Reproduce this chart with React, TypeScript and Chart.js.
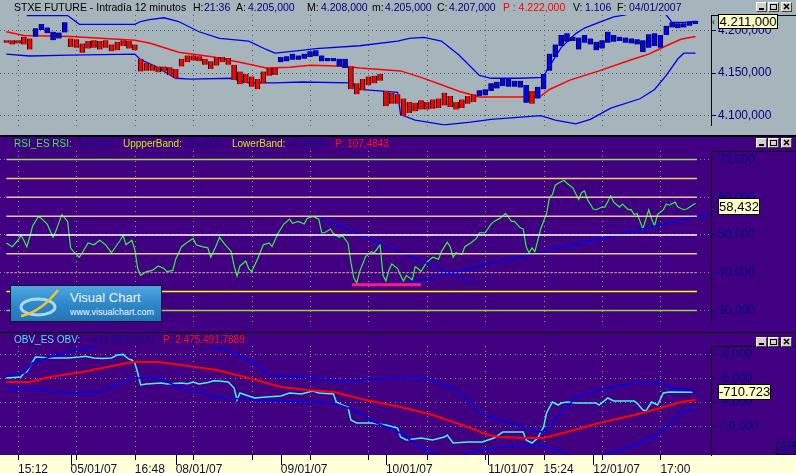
import React, { useEffect, useRef } from 'react';
import { Chart, registerables } from 'chart.js';
Chart.register(...registerables);

const FONT = '"Liberation Sans", Arial, Helvetica, sans-serif';
const NAVY = '#000080';
const XMIN = -0.17;
const XMAX = 243.32;

// ---------- time index (12-minute bars) ----------
const barT = Array.from({ length: 119 }, (_, i) => 2 + 2 * i);
const gridT = [6, 26, 46, 66, 86, 106, 126, 146, 166, 186, 206, 226];
const dateTickT = [24, 60, 96, 132, 167, 203];
const xLabelT = [6, 24, 46, 60, 96, 132, 167, 186, 203, 226];
const xLabels = ['15:12', '05/01/07', '16:48', '08/01/07', '09/01/07', '10/01/07', '11/01/07', '15:24', '12/01/07', '17:00'];

// ---------- price panel ----------
const priceHigh = [
  4189, 4189, 4189, 4193, 4191, 4203, 4208, 4204, 4199, 4198,
  4210, 4191, 4190, 4185, 4188, 4189, 4188, 4189, 4184, 4187,
  4189, 4188, 4184, 4167, 4162, 4160, 4158, 4158, 4157, 4155,
  4167, 4171, 4171, 4170, 4167, 4164, 4169, 4169, 4168, 4160,
  4152, 4149, 4146, 4143, 4152, 4156, 4156, 4169, 4170, 4173,
  4171, 4173, 4176, 4177, 4171, 4168, 4168, 4167, 4167, 4158,
  4138, 4143, 4146, 4147, 4149, 4129, 4127, 4125, 4120, 4116,
  4115, 4118, 4116, 4119, 4120, 4127, 4123, 4116, 4119, 4123,
  4125, 4130, 4131, 4138, 4140, 4144, 4143, 4141, 4141, 4136,
  4129, 4134, 4149, 4173, 4184, 4195, 4197, 4193, 4192, 4195,
  4191, 4187, 4189, 4199, 4195, 4193, 4192, 4191, 4190, 4189,
  4196, 4197, 4195, 4206, 4210, 4209, 4209, 4211, 4212,
];
const priceLow = [
  4186, 4184, 4185, 4184, 4178, 4193, 4201, 4197, 4189, 4191,
  4198, 4181, 4180, 4174, 4179, 4180, 4178, 4180, 4176, 4177,
  4182, 4179, 4177, 4152, 4153, 4153, 4151, 4152, 4148, 4144,
  4158, 4163, 4165, 4164, 4160, 4155, 4159, 4163, 4160, 4142,
  4137, 4138, 4134, 4131, 4138, 4147, 4148, 4163, 4164, 4166,
  4166, 4167, 4169, 4170, 4164, 4164, 4164, 4158, 4156, 4131,
  4125, 4130, 4136, 4138, 4141, 4111, 4114, 4114, 4100, 4103,
  4105, 4107, 4107, 4108, 4109, 4112, 4110, 4107, 4109, 4114,
  4116, 4123, 4124, 4129, 4132, 4135, 4134, 4134, 4133, 4115,
  4114, 4120, 4131, 4153, 4169, 4182, 4187, 4188, 4178, 4186,
  4184, 4177, 4179, 4186, 4187, 4188, 4186, 4185, 4184, 4175,
  4180, 4182, 4180, 4195, 4204, 4203, 4204, 4206, 4208,
];
const upperT = [9, 23, 27, 46, 48, 51, 56, 61, 68, 75, 85, 91, 94, 103, 108, 123, 136, 140, 145, 151, 157, 164, 168, 178, 186, 187, 192, 197, 200, 205, 210, 214, 220, 226, 228, 230, 234, 238];
const upperV = [4218, 4218, 4207.7, 4207.7, 4211, 4213.2, 4215.4, 4211, 4198.9, 4191.2, 4187.9, 4178, 4173.6, 4176.9, 4179.1, 4182.4, 4187.9, 4191.2, 4192.3, 4187.9, 4171.4, 4147.3, 4144, 4144, 4145.1, 4152.7, 4180.2, 4196.7, 4203.3, 4209.9, 4216.5, 4218.7, 4226, 4223, 4218.7, 4209.9, 4210, 4211];
const midT = [2, 8, 24, 46, 51, 61, 73, 84, 91, 99, 106, 118, 123, 137, 144, 151, 157, 164, 178, 185, 188, 195, 205, 216, 222, 228, 233, 238];
const midV = [4198.9, 4194.5, 4193.4, 4189, 4185.7, 4174.7, 4169.2, 4161.5, 4156, 4157.1, 4159.3, 4158.2, 4156, 4152.7, 4145.1, 4136.3, 4128.6, 4122, 4122, 4123.1, 4130.8, 4141.8, 4152.7, 4165.9, 4172.5, 4182.4, 4190.1, 4193.4];
const lowerT = [2, 10, 24, 46, 48, 53, 60, 65, 79, 85, 94, 103, 120, 123, 132, 136, 137, 142, 152, 161, 168, 185, 190, 197, 202, 209, 219, 224, 228, 232, 234, 238];
const lowerV = [4172.5, 4170.3, 4171.4, 4172.5, 4165.9, 4158.2, 4144, 4142.9, 4144, 4138.5, 4138.5, 4139.6, 4138.5, 4130.8, 4128.6, 4127.5, 4101.1, 4094.5, 4089, 4092.3, 4095.6, 4100, 4094.5, 4090.1, 4095.6, 4108.8, 4119.8, 4130.8, 4147.3, 4167, 4173.6, 4173.6];
const priceTicks = [4100, 4150, 4200];

// ---------- RSI panel ----------
const rsiT = [2, 4, 6, 7, 8, 9, 10, 11, 13, 14, 16, 17, 18, 19, 21, 23, 24, 25, 27, 28, 30, 32, 34, 36, 38, 41, 42, 43, 45, 46, 47, 48, 50, 52, 54, 56, 57, 59, 60, 62, 64, 66, 67, 69, 71, 72, 74, 75, 77, 79, 80, 81, 82, 84, 85, 86, 88, 90, 92, 93, 95, 97, 99, 100, 102, 104, 105, 107, 109, 110, 111, 113, 114, 116, 117, 119, 120, 121, 122, 123, 125, 127, 128, 130, 131, 132, 133, 134, 136, 137, 138, 139, 141, 142, 143, 144, 146, 148, 150, 151, 153, 154, 155, 156, 158, 159, 161, 163, 164, 166, 168, 169, 171, 173, 175, 176, 178, 179, 180, 181, 182, 183, 184, 185, 187, 188, 189, 190, 191, 193, 194, 196, 198, 199, 200, 201, 203, 204, 206, 207, 209, 210, 212, 213, 215, 216, 217, 218, 220, 221, 222, 223, 224, 225, 227, 228, 229, 231, 232, 234, 235, 238];
const rsiV = [47.9, 46.9, 48.6, 49.9, 48.6, 46.9, 49.4, 52.4, 54.9, 54.4, 52.9, 51.1, 49.4, 51.1, 55.4, 53.6, 46.6, 45.6, 44.1, 45.3, 47.9, 47.4, 48.6, 47.4, 45.3, 48.6, 49.9, 47.4, 48.6, 46.1, 41.1, 39.3, 40.3, 40.6, 41.8, 41.1, 40.3, 40.6, 43.6, 46.9, 48.1, 49.1, 47.4, 46.9, 46.6, 44.1, 47.4, 49.4, 47.4, 45.6, 41.8, 39.1, 41.8, 43.1, 41.1, 40.3, 43.6, 47.4, 47.9, 46.9, 50.4, 52.9, 54.2, 53.1, 53.6, 52.9, 54.4, 54.9, 54.2, 50.6, 50.6, 51.6, 50.4, 49.4, 49.9, 47.9, 42.8, 38.6, 37.3, 40.3, 44.3, 45.6, 45.3, 47.4, 39.3, 37.8, 40.6, 42.3, 41.1, 39.3, 37.8, 39.3, 38.1, 41.6, 41.1, 40.3, 42.8, 44.1, 43.6, 45.6, 48.1, 46.9, 44.1, 45.3, 44.8, 46.9, 47.9, 49.1, 50.6, 50.6, 52.9, 53.6, 54.4, 55.7, 53.6, 53.6, 51.9, 51.6, 46.9, 45.3, 46.6, 45.6, 48.6, 51.6, 55.7, 59.9, 60.7, 63.2, 63.7, 64.5, 63.7, 62.5, 59.4, 61.2, 61.7, 59.4, 56.9, 56.7, 57.4, 57.4, 60.4, 58.7, 57.4, 58.2, 56.7, 56.7, 55.4, 55.7, 51.6, 54.2, 56.7, 54.2, 52.4, 55.4, 56.7, 58.2, 57.9, 58.7, 57.4, 56.7, 56.9, 58.4];
const rsiLevels = [70, 65, 60, 55, 50, 45, 40, 35, 30];
const rsiLevelColors = ['#94E048', '#F2D060', '#E2C8A0', '#E2C8A0', '#FFFFFF', '#E2C8A0', '#D8B8A8', '#FFFF00', '#84E020'];
const levelSpanT = [2, 238.5];
const trendDownT = [108.8, 161.8];
const trendDownV = [54.8, 37.3];
const trendUpT = [140.2, 243.0];
const trendUpV = [37.5, 55.7];
const supportT = [120.4, 144];
const supportV = [36.8, 36.8];
const rsiTicks = [30, 40, 50, 60, 70];

// ---------- OBV panel (x100) ----------
const obvT = [2, 7, 8, 9, 11, 12, 17, 23, 27, 29, 32, 35, 38, 40, 42, 43, 44, 45, 46, 47, 48, 50, 55, 57, 62, 64, 66, 68, 71, 73, 75, 78, 80, 81, 82, 84, 87, 91, 96, 99, 103, 107, 109, 114, 115, 117, 119, 120, 122, 127, 132, 136, 137, 139, 144, 148, 152, 153, 155, 160, 165, 169, 172, 176, 179, 180, 182, 184, 185, 186, 187, 189, 191, 192, 194, 197, 204, 205, 208, 210, 217, 218, 220, 221, 223, 225, 227, 229, 237];
const obvV = [-5925, -5841, -5507, -5423, -4586, -4167, -4251, -4251, -4167, -4100, -4251, -4300, -4251, -4000, -3950, -4167, -4350, -4419, -4670, -5507, -6511, -6427, -6350, -6427, -6344, -6400, -6260, -6427, -6300, -6150, -6176, -6260, -6762, -7767, -7181, -7348, -7599, -7515, -7432, -7181, -7264, -7013, -7181, -7264, -7934, -8185, -8352, -9441, -9692, -9692, -9859, -10110, -10863, -11115, -10947, -11115, -10863, -10696, -11366, -11282, -11282, -10947, -10445, -10445, -10445, -11115, -11366, -10947, -10445, -10026, -8855, -7934, -8185, -8018, -7934, -8018, -8018, -8185, -7599, -7850, -7850, -8018, -8604, -8687, -7934, -8185, -7181, -7097, -7107];
const obvMaT = [2, 10, 17, 28, 40, 45, 54, 62, 74, 85, 96, 105, 114, 125, 137, 148, 160, 167, 171, 180, 186, 194, 205, 217, 226, 233, 238];
const obvMaV = [-6260, -6260, -5841, -5423, -4837, -4586, -4586, -4837, -5256, -5925, -6678, -6930, -7097, -7767, -8352, -9022, -10026, -10696, -10863, -10947, -10947, -10445, -9692, -9022, -8436, -7934, -7767];
const obvUpT = [2, 8, 11, 17, 23, 32, 40, 55, 68, 73, 80, 87, 92, 107, 119, 125, 137, 145, 154, 160, 167, 177, 185, 187, 192, 197, 205, 217, 226, 230, 238];
const obvUpV = [-5674, -5507, -4670, -4167, -3749, -3330, -2700, -2300, -2900, -3330, -3833, -4670, -5674, -5925, -6260, -6009, -5925, -5925, -6678, -7767, -9189, -9859, -10445, -10278, -8855, -7599, -6930, -6344, -6344, -6762, -7013];
const obvLoT = [2, 10, 23, 34, 45, 54, 62, 74, 87, 97, 114, 121, 128, 137, 144, 151, 156, 160, 171, 185, 191, 196, 205, 217, 224, 228, 232, 235, 238];
const obvLoV = [-6846, -6762, -7181, -7097, -5925, -5925, -6762, -7515, -7767, -7850, -8018, -8604, -9608, -10529, -11784, -12454, -12650, -12203, -11700, -11533, -12035, -12450, -12500, -11533, -10863, -10026, -9022, -8604, -8604];
const obvTicks = [-10000, -8000, -6000, -4000];

// ---------- helpers ----------
const pts = (ts: number[], vs: number[]) => ts.map((t, i) => ({ x: t, y: vs[i] }));
const interp = (ts: number[], vs: number[], t: number) => {
  if (t <= ts[0]) return vs[0];
  for (let i = 1; i < ts.length; i++) {
    if (t <= ts[i]) {
      const f = (t - ts[i - 1]) / (ts[i] - ts[i - 1]);
      return vs[i - 1] + f * (vs[i] - vs[i - 1]);
    }
  }
  return vs[vs.length - 1];
};
const fmtEU = (v: number, dec: number) => {
  const s = Math.abs(v).toFixed(dec);
  const [ip, fp] = s.split('.');
  const g = ip.replace(/\B(?=(\d{3})+(?!\d))/g, '.');
  return (v < 0 ? '-' : '') + g + (fp ? ',' + fp : '');
};

const bgPlugin = (color: string, strip?: string) => ({
  id: 'bg',
  beforeDraw(chart: any) {
    const { ctx, width, height, chartArea } = chart;
    ctx.save();
    ctx.fillStyle = color;
    ctx.fillRect(0, 0, width, height);
    if (strip) {
      ctx.fillStyle = strip;
      ctx.fillRect(0, chartArea.bottom, width, height - chartArea.bottom);
    }
    ctx.restore();
  },
});
const vgridPlugin = (color: string, dash: number[]) => ({
  id: 'vgrid',
  beforeDatasetsDraw(chart: any) {
    const { ctx, chartArea: a, scales } = chart;
    ctx.save();
    ctx.strokeStyle = color;
    ctx.lineWidth = 1;
    ctx.setLineDash(dash);
    gridT.forEach((t) => {
      const px = Math.round(scales.x.getPixelForValue(t)) + 0.5;
      ctx.beginPath();
      ctx.moveTo(px, a.top);
      ctx.lineTo(px, a.bottom);
      ctx.stroke();
    });
    ctx.restore();
  },
});
const boxTopPlugin = {
  id: 'boxtop',
  afterDraw(chart: any) {
    const { ctx, chartArea: a, width } = chart;
    ctx.save();
    ctx.strokeStyle = '#000';
    ctx.lineWidth = 1;
    ctx.beginPath();
    ctx.moveTo(a.right, a.top + 0.5);
    ctx.lineTo(width, a.top + 0.5);
    ctx.stroke();
    ctx.restore();
  },
};
const xTickPlugin = {
  id: 'xticks',
  afterDraw(chart: any) {
    const { ctx, chartArea: a, scales } = chart;
    ctx.save();
    ctx.strokeStyle = '#000';
    ctx.lineWidth = 1;
    const tick = (t: number, len: number) => {
      const px = Math.round(scales.x.getPixelForValue(t)) + 0.5;
      ctx.beginPath();
      ctx.moveTo(px, a.bottom);
      ctx.lineTo(px, a.bottom + len);
      ctx.stroke();
    };
    gridT.forEach((t) => tick(t, 5));
    dateTickT.forEach((t) => tick(t, 10));
    ctx.restore();
  },
};

const yAxis = (min: number, max: number, ticks: number[], fmt: (v: number) => string, gridColor: string, dash: number[]) => ({
  type: 'linear',
  position: 'right',
  min,
  max,
  afterBuildTicks: (s: any) => {
    s.ticks = ticks.map((v) => ({ value: v }));
  },
  afterFit: (s: any) => {
    s.width = 85;
  },
  ticks: { color: NAVY, font: { family: FONT, size: 12 }, padding: 2, callback: (v: any) => fmt(Number(v)) },
  grid: { color: gridColor, lineWidth: 1, drawTicks: true, tickLength: 5, tickColor: NAVY, tickWidth: 1 },
  border: { display: true, color: '#000', width: 1, dash },
});
const hiddenX = { type: 'linear', min: XMIN, max: XMAX, display: false, offset: false, grid: { offset: false } };
const baseOpts = (padTop: number, padBottom: number) => ({
  responsive: false,
  maintainAspectRatio: false,
  animation: false,
  events: [],
  layout: { padding: { top: padTop, bottom: padBottom, left: 0, right: 0 } },
  plugins: { legend: { display: false }, tooltip: { enabled: false } },
});
const line = (data: any[], color: string, width: number, extra: any = {}) => ({
  type: 'line',
  data,
  borderColor: color,
  borderWidth: width,
  pointRadius: 0,
  tension: 0,
  fill: false,
  ...extra,
});

function priceConfig(): any {
  return {
    type: 'bar',
    data: {
      datasets: [
        {
          type: 'bar',
          order: 0,
          data: barT.map((t, i) => ({ x: t, y: [priceLow[i], priceHigh[i]] })),
          barThickness: 5,
          grouped: false,
          borderSkipped: false,
          borderWidth: { left: 1, right: 1, top: 0, bottom: 0 },
          borderColor: '#000000',
          backgroundColor: (c: any) => {
            const i = c.dataIndex;
            if (i == null || i < 0) return '#0000FF';
            const m = interp(midT, midV, barT[i]);
            return (priceHigh[i] + priceLow[i]) / 2 > m ? '#0000FF' : '#FF0000';
          },
        },
        line(pts(upperT, upperV), '#0000F0', 1.3, { order: 1 }),
        line(pts(lowerT, lowerV), '#0000F0', 1.3, { order: 1 }),
        line(pts(midT, midV), '#FF0000', 1.5, { order: 1 }),
      ],
    },
    options: {
      ...baseOpts(15, 1),
      scales: {
        x: hiddenX,
        y: yAxis(4087.9, 4218.68, priceTicks, (v) => fmtEU(v, 3), '#4E5A62', [1, 3]),
      },
    },
    plugins: [bgPlugin('#A6B4BC'), vgridPlugin('#4E5A62', [1, 4]), boxTopPlugin],
  };
}

function rsiConfig(): any {
  const levels = rsiLevels.map((lv, k) =>
    line(pts(levelSpanT, [lv, lv]), rsiLevelColors[k], 1.5, lv === 40 ? { borderDash: [2, 2], borderWidth: 1.2 } : {})
  );
  return {
    type: 'line',
    data: {
      datasets: [
        ...levels,
        line(pts(trendDownT, trendDownV), '#0000E8', 1.5),
        line(pts(trendUpT, trendUpV), '#0000E8', 1.5),
        line(pts(supportT, supportV), '#FF1A8C', 3),
        line(pts(rsiT, rsiV), '#2CF83C', 1.2),
      ],
    },
    options: {
      ...baseOpts(14, 0),
      scales: {
        x: hiddenX,
        y: yAxis(26.73, 72.26, rsiTicks, (v) => fmtEU(v, 3), '#8C8C70', [1, 3]),
      },
    },
    plugins: [bgPlugin('#410082'), vgridPlugin('#A0A060', [1, 4]), boxTopPlugin],
  };
}

function obvConfig(): any {
  return {
    type: 'line',
    data: {
      datasets: [
        line(pts(obvUpT, obvUpV), '#0000F0', 1.5),
        line(pts(obvLoT, obvLoV), '#0000F0', 1.5),
        line(pts(obvMaT, obvMaV), '#FF0000', 2),
        line(pts(obvT, obvV), '#3CF4F0', 1.5),
      ],
    },
    options: {
      ...baseOpts(13, 0),
      scales: {
        x: {
          type: 'linear',
          min: XMIN,
          max: XMAX,
          position: 'bottom',
          display: true,
          offset: false,
          afterBuildTicks: (s: any) => {
            s.ticks = xLabelT.map((v) => ({ value: v }));
          },
          afterFit: (s: any) => {
            s.height = 18;
          },
          ticks: {
            autoSkip: false,
            maxRotation: 0,
            minRotation: 0,
            align: 'start',
            padding: -1,
            color: '#101030',
            font: { family: FONT, size: 12 },
            callback: (v: any) => {
              const i = xLabelT.indexOf(Number(v));
              return i >= 0 ? xLabels[i] : '';
            },
          },
          grid: { display: false },
          border: { display: false },
        },
        y: yAxis(-12368, -3247, obvTicks, (v) => fmtEU(v, 0), '#A0A060', [1, 4]),
      },
    },
    plugins: [bgPlugin('#410082', '#FFFFD8'), vgridPlugin('#A0A060', [1, 4]), boxTopPlugin, xTickPlugin],
  };
}

// ---------- small UI pieces ----------
const priceHeader: [string, string, number][] = [
  ['STXE FUTURE - Intradía 12 minutos', '#000', 14],
  ['H:', '#000', 193], ['21:36', NAVY, 204],
  ['A:', '#000', 236], ['4.205,000', NAVY, 248],
  ['M:', '#000', 307], ['4.208,000', NAVY, 321],
  ['m:', '#000', 372], ['4.205,000', NAVY, 385],
  ['C:', '#000', 437], ['4.207,000', NAVY, 449],
  ['P : 4.222,000', '#FF0000', 503],
  ['V:', '#000', 573], ['1.106', NAVY, 585],
  ['F:', '#000', 617], ['04/01/2007', NAVY, 629],
];
const rsiHeader: [string, string, number][] = [
  ['RSI_ES RSI:', '#30F040', 14], ['54,9402', '#101088', 78],
  ['UppperBand:', '#C4F000', 123], ['70,0000', '#101088', 186],
  ['LowerBand:', '#C4F000', 232], ['30,0000', '#101088', 290],
  ['P: 107,4843', '#FF1010', 335],
];
const obvHeader: [string, string, number][] = [
  ['OBV_ES OBV:', '#40E8E8', 14], ['-421.054,0000', '#101088', 89],
  ['P: 2.475.491,7889', '#FF1010', 163],
];

function Header({ items, top, size }: { items: [string, string, number][]; top: number; size: number }) {
  return (
    <>
      {items.map(([t, c, l], i) => (
        <span key={i} style={{ position: 'absolute', left: l, top, fontSize: size, lineHeight: '12px', color: c, whiteSpace: 'pre', fontFamily: FONT }}>
          {t}
        </span>
      ))}
    </>
  );
}

function Buttons({ top }: { top: number }) {
  const btn = (left: number, icon: React.ReactNode) => (
    <div style={{ position: 'absolute', left, top, width: 11, height: 10, boxSizing: 'border-box', background: '#D4D0C8', borderTop: '1px solid #FFF', borderLeft: '1px solid #FFF', borderRight: '1px solid #404040', borderBottom: '1px solid #404040' }}>
      <svg width="9" height="8" style={{ position: 'absolute', left: 0, top: 0 }}>{icon}</svg>
    </div>
  );
  return (
    <>
      {btn(756, <rect x="2" y="5" width="5" height="2" fill="#000" />)}
      {btn(768, <rect x="1.5" y="1.5" width="6" height="5" fill="none" stroke="#000" strokeWidth="1" />)}
      {btn(781, <path d="M2 1 L7 6 M7 1 L2 6" stroke="#000" strokeWidth="1.5" />)}
    </>
  );
}

function ValueBox({ left, top, width, height, text }: { left: number; top: number; width: number; height: number; text: string }) {
  return (
    <>
      <span style={{ position: 'absolute', left: 712, top: top + height / 2 - 6, fontSize: 9, lineHeight: '12px', color: '#000', fontFamily: FONT }}>‹</span>
      <div style={{ position: 'absolute', left, top, width, height, boxSizing: 'border-box', background: '#FFFFC8', border: '1px solid #000', fontFamily: FONT, fontSize: 13, lineHeight: `${height - 2}px`, color: '#000', textAlign: 'center' }}>
        {text}
      </div>
    </>
  );
}

export default function App() {
  const r1 = useRef<HTMLCanvasElement>(null);
  const r2 = useRef<HTMLCanvasElement>(null);
  const r3 = useRef<HTMLCanvasElement>(null);
  useEffect(() => {
    document.body.style.margin = '0';
    const c1 = new Chart(r1.current as HTMLCanvasElement, priceConfig());
    const c2 = new Chart(r2.current as HTMLCanvasElement, rsiConfig());
    const c3 = new Chart(r3.current as HTMLCanvasElement, obvConfig());
    return () => {
      c1.destroy();
      c2.destroy();
      c3.destroy();
    };
  }, []);
  const cv = (top: number, h: number): React.CSSProperties => ({ position: 'absolute', left: 0, top, width: 796, height: h });
  return (
    <div style={{ position: 'relative', width: 796, height: 473, overflow: 'hidden', background: '#000', fontFamily: FONT }}>
      <style>{'body{margin:0}'}</style>
      <canvas ref={r1} width={796} height={135} style={cv(0, 135)} />
      <canvas ref={r2} width={796} height={195} style={cv(137, 195)} />
      <canvas ref={r3} width={796} height={140} style={cv(333, 140)} />

      <Header items={priceHeader} top={1} size={10.5} />
      <Header items={rsiHeader} top={138} size={10} />
      <Header items={obvHeader} top={334} size={10} />

      <Buttons top={2} />
      <Buttons top={138} />
      <Buttons top={337} />

      <ValueBox left={718} top={14} width={60} height={15} text="4.211,000" />
      <ValueBox left={718} top={198} width={42} height={17} text="58,432" />
      <ValueBox left={718} top={384} width={53} height={16} text="-710.723" />

      <div style={{ position: 'absolute', left: 776, top: 442, width: 20, height: 13, boxSizing: 'border-box', border: '1px solid #000040', color: NAVY, fontSize: 9, lineHeight: '11px', textAlign: 'center', fontFamily: FONT }}>x100</div>

      <div style={{ position: 'absolute', left: 10, top: 285, width: 152, height: 37, boxSizing: 'border-box', border: '1px solid #0A1838', background: 'linear-gradient(180deg, #4FA6E0 0%, #2C86C8 55%, #2376B8 100%)', overflow: 'hidden' }}>
        <svg width="60" height="35" style={{ position: 'absolute', left: 0, top: 0 }}>
          <ellipse cx="27" cy="21" rx="17" ry="8" fill="none" stroke="#B8E2FF" strokeWidth="3" opacity="0.9" />
          <path d="M10 30 Q30 26 47 4" fill="none" stroke="#F2C230" strokeWidth="2.5" />
        </svg>
        <span style={{ position: 'absolute', left: 59, top: 5, fontSize: 13, lineHeight: '14px', color: '#EEF4FA', fontFamily: FONT }}>Visual Chart</span>
        <span style={{ position: 'absolute', left: 59, top: 21, fontSize: 9, lineHeight: '11px', color: '#F4F8FF', fontFamily: FONT }}>www.visualchart.com</span>
      </div>
    </div>
  );
}
